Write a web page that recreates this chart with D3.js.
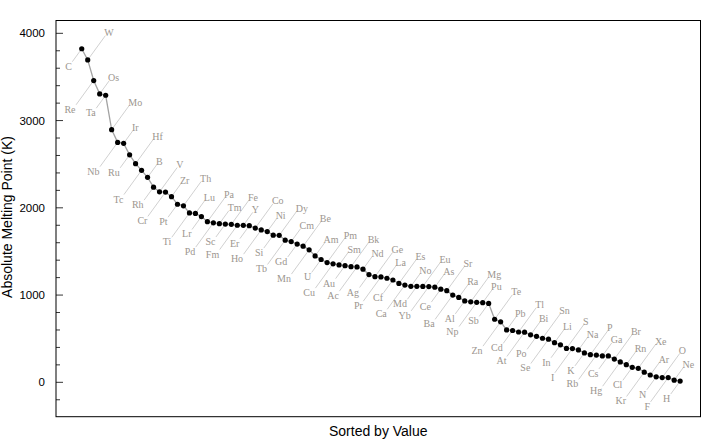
<!DOCTYPE html>
<html>
<head>
<meta charset="utf-8">
<script src="https://cdn.jsdelivr.net/npm/d3@7"></script>
<style>
  html, body { margin: 0; padding: 0; background: #fff; }
  svg { display: block; }
</style>
</head>
<body>
<div id="chart"></div>
<script>
// elements sorted by absolute melting point (K), highest first
var elements = ['C','W','Re','Os','Ta','Mo','Nb','Ir','Ru','Hf','Tc','B','Rh','V','Cr','Zr','Pt','Th','Ti','Lu',
  'Lr','Pa','Pd','Tm','Sc','Fe','Fm','Y','Er','Co','Ho','Ni','Si','Dy','Tb','Cm','Gd','Be','Mn','Am',
  'U','Pm','Cu','Sm','Au','Bk','Ac','Nd','Ag','Ge','Pr','La','Cf','Es','Ca','No','Md','Eu','Yb','As',
  'Ce','Sr','Ba','Ra','Al','Mg','Np','Pu','Sb','Te','Zn','Pb','Cd','Tl','At','Bi','Po','Sn','Se','Li',
  'In','S','I','Na','K','P','Rb','Ga','Cs','Br','Hg','Rn','Cl','Xe','Kr','Ar','N','O','F','Ne','H'];
var meltingPoints = [3823,3695,3459,3306,3290,2896,2750,2739,2607,2506,2430,2349,2237,2183,2180,2128,2041,2023,1941,1936,
  1900,1841,1828,1818,1814,1811,1800,1799,1795,1768,1747,1728,1687,1685,1629,1613,1585,1560,1519,1449,
  1408,1373,1358,1345,1337,1325,1323,1297,1235,1211,1208,1193,1173,1133,1115,1100,1100,1099,1097,1090,
  1068,1050,1000,973,933,923,917,913,904,723,693,601,594,577,575,544,527,505,494,454,
  430,388,387,371,337,317,312,303,302,266,234,202,172,161,116,84,63,54,54,25,14];
var yMajorTicks = [0,1000,2000,3000,4000];
var yLabel = 'Absolute Melting Point (K)';
var xLabel = 'Sorted by Value';

var W = 720, H = 439;
var frame = {left:56, right:700.5, top:20.5, bottom:416.7};

var svg = d3.select('#chart').append('svg').attr('width',W).attr('height',H);

var x = d3.scaleLinear().domain([-3.3,104.4]).range([frame.left,frame.right]);
var y = d3.scaleLinear().domain([-394,4147]).range([frame.bottom,frame.top]);

var data = elements.map(function(e,i){ return {name:e, idx:i+1, v:meltingPoints[i]}; });

// y axis ticks (inward), labels outside
var minorTicks = d3.range(-400,4200,200).filter(function(v){ return y(v)<=frame.bottom && y(v)>=frame.top; });
svg.append('g').selectAll('line').data(minorTicks).join('line')
    .attr('x1',frame.left).attr('x2',function(d){ return frame.left+(d%1000===0?7:4); })
    .attr('y1',function(d){ return y(d); }).attr('y2',function(d){ return y(d); })
    .attr('stroke','#000').attr('stroke-width',0.8);
svg.append('g').selectAll('text').data(yMajorTicks).join('text')
    .attr('x',frame.left-11).attr('y',function(d){ return y(d); }).attr('dy','0.36em')
    .attr('text-anchor','end').attr('font-family','Liberation Sans, Arial, sans-serif').attr('font-size','11.5px')
    .attr('fill','#000').text(function(d){ return d; });

// data line
var line = d3.line().x(function(d){ return x(d.idx); }).y(function(d){ return y(d.v); });
svg.append('path').datum(data).attr('d',line).attr('fill','none').attr('stroke','#a3a3a3').attr('stroke-width',1.3);

// callouts: alternate below-left / above-right, with short and long leaders
var ang = 54*Math.PI/180;
function leader(d){
    var m = d.idx%4;
    var len = (m===2||m===3) ? 30 : 16;
    var dir = (m===1||m===3) ? -1 : 1;   // -1 below-left, 1 above-right
    var px = x(d.idx), py = y(d.v);
    return {px:px, py:py, ex:px+dir*len*Math.cos(ang), ey:py-dir*len*Math.sin(ang), dir:dir};
}
var cg = svg.append('g');
cg.selectAll('line').data(data).join('line')
    .each(function(d){ d.L = leader(d); })
    .attr('x1',function(d){ return d.L.px; }).attr('y1',function(d){ return d.L.py; })
    .attr('x2',function(d){ return d.L.ex; }).attr('y2',function(d){ return d.L.ey; })
    .attr('stroke','#c4c4c4').attr('stroke-width',0.8);
cg.selectAll('text').data(data).join('text')
    .attr('x',function(d){ return d.L.dir>0 ? d.L.ex-1 : d.L.ex-0.5; })
    .attr('y',function(d){ return d.L.dir>0 ? d.L.ey+0.5 : d.L.ey+8; })
    .attr('text-anchor',function(d){ return d.L.dir>0 ? 'start' : 'end'; })
    .attr('font-family','Liberation Serif, Times New Roman, serif').attr('font-size','10px')
    .attr('fill','#9c968f').text(function(d){ return d.name; });

// points
svg.append('g').selectAll('circle').data(data).join('circle')
    .attr('cx',function(d){ return x(d.idx); }).attr('cy',function(d){ return y(d.v); })
    .attr('r',2.6).attr('fill','#000');

// frame
svg.append('rect').attr('x',frame.left).attr('y',frame.top)
    .attr('width',frame.right-frame.left).attr('height',frame.bottom-frame.top)
    .attr('fill','none').attr('stroke','#000').attr('stroke-width',1);

// axis labels
svg.append('text').attr('x',(frame.left+frame.right)/2).attr('y',436)
    .attr('text-anchor','middle').attr('font-family','Liberation Sans, Arial, sans-serif').attr('font-size','14px')
    .attr('fill','#000').text(xLabel);
svg.append('text').attr('transform','translate(12,217) rotate(-90)')
    .attr('text-anchor','middle').attr('font-family','Liberation Sans, Arial, sans-serif').attr('font-size','14px')
    .attr('fill','#000').text(yLabel);
</script>
</body>
</html>
